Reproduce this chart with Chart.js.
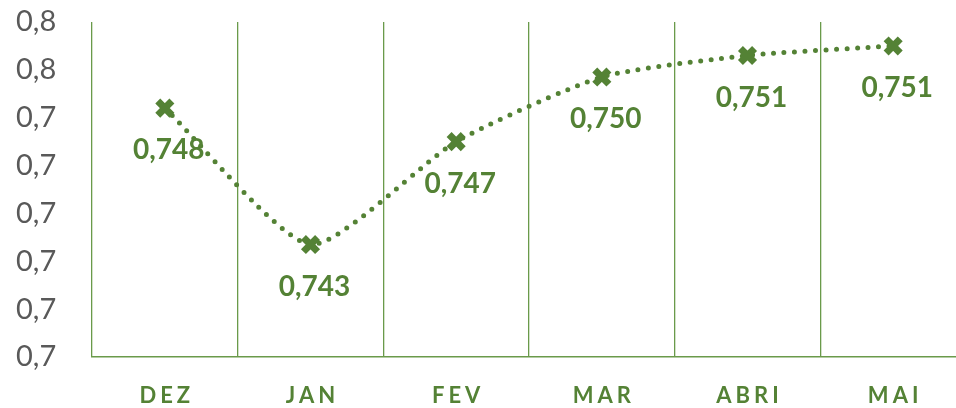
<!DOCTYPE html>
<html>
<head>
<meta charset="utf-8">
<script src="https://cdn.jsdelivr.net/npm/chart.js@4"></script>
<style>
  html, body { margin: 0; padding: 0; background: #fff; overflow: hidden; }
</style>
</head>
<body>
<canvas id="chart" width="983" height="408"></canvas>
<script>
// --- Data ---
const months = ["DEZ", "JAN", "FEV", "MAR", "ABRI", "MAI"];
const values = [0.7484, 0.7427, 0.7470, 0.7497, 0.7506, 0.7510];
const valueLabels = ["0,748", "0,743", "0,747", "0,750", "0,751", "0,751"];
const yTickLabels = ["0,7", "0,7", "0,7", "0,7", "0,7", "0,7", "0,8", "0,8"];

const green = "#548235";
const gridGreen = "#6a9a4a";

// draws month names (letter-spaced) and the value labels under each marker
const labelsPlugin = {
  id: "labels",
  afterDraw(chart) {
    const ctx = chart.ctx;
    const xs = chart.scales.x;
    const meta = chart.getDatasetMeta(0);

    ctx.save();
    ctx.fillStyle = green;
    ctx.textAlign = "center";
    ctx.textBaseline = "middle";

    ctx.font = "bold 28px Lato";
    meta.data.forEach((pt, i) => {
      ctx.fillText(valueLabels[i], pt.x + 4, pt.y + 42);
    });

    ctx.font = "bold 22px Lato";
    ctx.letterSpacing = "4px";
    months.forEach((m, i) => {
      ctx.fillText(m, xs.getPixelForTick(i) + 2, chart.chartArea.bottom + 39);
    });
    ctx.restore();
  },
};

new Chart(document.getElementById("chart"), {
  type: "line",
  data: {
    labels: months,
    datasets: [
      {
        data: values,
        borderColor: green,
        borderWidth: 5,
        borderDash: [0, 10.5],
        borderCapStyle: "round",
        tension: 0.2,
        pointStyle: "crossRot",
        pointRadius: 10,
        pointBorderWidth: 7,
        pointBorderColor: green,
        pointBackgroundColor: green,
      },
    ],
  },
  options: {
    responsive: false,
    animation: false,
    layout: { padding: { top: 22, right: 0, left: 16, bottom: 0 } },
    plugins: {
      legend: { display: false },
      tooltip: { enabled: false },
    },
    scales: {
      x: {
        offset: true,
        grid: { offset: true, color: gridGreen, lineWidth: 1.3, drawTicks: false },
        border: { color: gridGreen, width: 1.5 },
        ticks: { display: false },
        afterFit: (s) => { s.height = 51; },
      },
      y: {
        min: 0.738,
        max: 0.752,
        grid: { display: false, drawTicks: false },
        border: { display: false },
        ticks: {
          stepSize: 0.002,
          padding: 0,
          crossAlign: "far",
          color: "#595959",
          font: { family: "Lato", size: 29 },
          callback: (v, i) => yTickLabels[i],
        },
        afterFit: (s) => { s.width = 76; },
      },
    },
  },
  plugins: [labelsPlugin],
});
</script>
</body>
</html>
